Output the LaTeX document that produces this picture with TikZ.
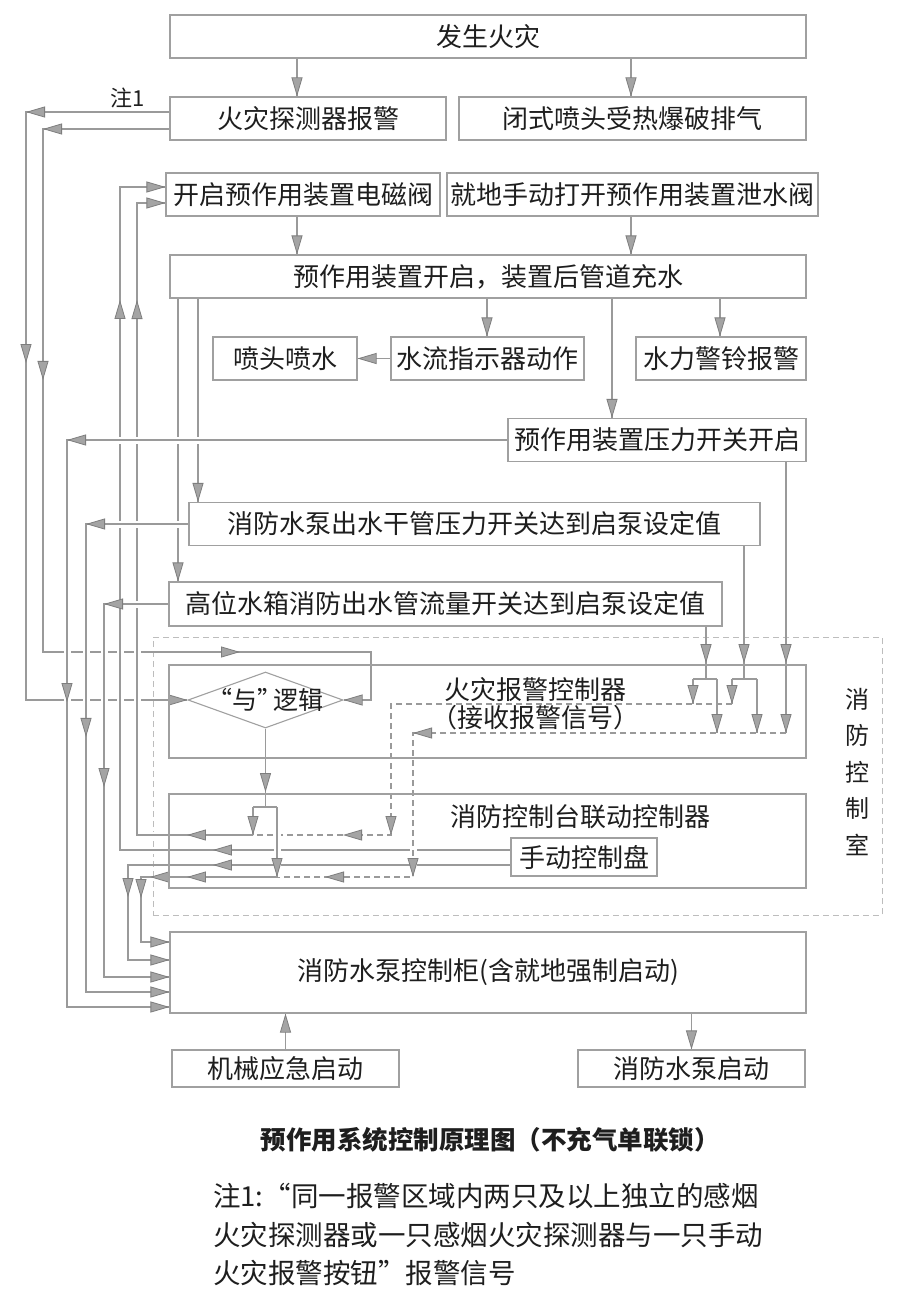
\documentclass[tikz,border=0pt]{standalone}
\usepackage{fontspec}
\setmainfont{Noto Sans CJK SC}
\usetikzlibrary{arrows.meta,decorations.markings,shapes.geometric}
\definecolor{lg}{HTML}{9A9A9A}
\definecolor{bd}{HTML}{A0A0A0}
\definecolor{af}{HTML}{A4A4A4}
\definecolor{ao}{HTML}{7E7E7E}
\definecolor{tx}{HTML}{1E1E1E}
\definecolor{rg}{HTML}{BDBDBD}
\pgfdeclarelayer{bg}
\pgfsetlayers{bg,main}
\newcommand\boxfont{\fontsize{26}{30}\selectfont}
\begin{document}
\begin{tikzpicture}[x=1pt,y=-1pt,
  gtip/.tip={Triangle[length=19pt,width=11pt,line width=0.8pt,color=ao,fill=af]},
  ln/.style={draw=lg,line width=1.1pt},
  dl/.style={ln,dash pattern=on 6pt off 4pt},
  halo/.style={preaction={draw=white,line width=7pt,solid}},
  arr/.style={postaction={decorate,decoration={markings,mark=at position #1 with {\arrow{gtip}}}}},
  bx/.style={draw=bd,line width=1.1pt,fill=white,text=tx,font=\boxfont,inner sep=0pt,minimum height=43pt},
  ctn/.style={draw=bd,line width=1.1pt,inner sep=0pt},
  lbl/.style={text=tx,font=\boxfont,inner sep=0pt},
]
\useasboundingbox (0,0) rectangle (900,1300);

% ---------- boxes ----------
\node[bx,minimum width=636pt] (fire) at (488,36.5) {发生火灾};
\node[bx,minimum width=276pt] (det) at (308,118.5) {火灾探测器报警};
\node[bx,minimum width=347pt] (spr) at (632.5,118.5) {闭式喷头受热爆破排气};
\node[bx,minimum width=274pt] (kq1) at (303,194.5) {开启预作用装置电磁阀};
\node[bx,minimum width=371pt] (man) at (632.5,194.5) {就地手动打开预作用装置泄水阀};
\node[bx,minimum width=636pt] (kq) at (488,276.5) {预作用装置开启，装置后管道充水};
\node[bx,minimum width=144pt] (noz) at (285,358.5) {喷头喷水};
\node[bx,minimum width=193pt] (wf) at (487.5,358.5) {水流指示器动作};
\node[bx,minimum width=170pt] (bell) at (721,358.5) {水力警铃报警};
\node[bx,minimum width=298pt] (ps) at (657,440) {预作用装置压力开关开启};
\node[bx,minimum width=571pt] (sb) at (474.5,524) {消防水泵出水干管压力开关达到启泵设定值};
\node[bx,minimum width=553pt,minimum height=44pt] (gw) at (445.5,604) {高位水箱消防出水管流量开关达到启泵设定值};
\node[ctn,minimum width=637pt,minimum height=93pt] (fac) at (487.5,711.5) {};
\node[lbl] (fact1) at (535,690) {火灾报警控制器};
\node[lbl] (fact2) at (535,718) {（接收报警信号）};
\node[draw=bd,line width=1.1pt,fill=white,diamond,minimum width=155pt,minimum height=56pt,inner sep=0pt,
      label={[lbl,font=\fontsize{25}{30}\selectfont]center:“与”\kern-9pt逻辑}] (and) at (265.5,700) {};
\node[ctn,minimum width=637pt,minimum height=94pt] (lk) at (487.5,841) {};
\node[lbl] (lkt) at (580,817) {消防控制台联动控制器};
\node[bx,minimum width=146pt,minimum height=38pt] (sd) at (584,857) {手动控制盘};
\node[ctn,minimum width=636pt,minimum height=81pt,font=\boxfont,text=tx] (cab) at (488,972.5) {消防水泵控制柜(含就地强制启动)};
\node[bx,minimum width=227pt,minimum height=37pt] (mech) at (285.5,1068.5) {机械应急启动};
\node[bx,minimum width=227pt,minimum height=37pt] (st) at (691.5,1068.5) {消防水泵启动};

\node[text=tx,font=\fontsize{22}{24}\selectfont,inner sep=0pt] (n1) at (128,98) {注1};
\node[text=tx,font=\fontsize{24}{36.5}\selectfont,align=center,inner sep=0pt] (roomt) at (857,772) {消\\防\\控\\制\\室};

\node[text=tx,font=\bfseries\fontsize{25.5}{30}\selectfont,inner sep=0pt] (cap) at (490,1140) {预作用系统控制原理图（不充气单联锁）};
\node[text=tx,font=\fontsize{27.5}{32}\selectfont,inner sep=0pt,anchor=west] (note1) at (213,1196) {注1:“同一报警区域内两只及以上独立的感烟};
\node[text=tx,font=\fontsize{27.5}{32}\selectfont,inner sep=0pt,anchor=west] (note2) at (213,1235) {火灾探测器或一只感烟火灾探测器与一只手动};
\node[text=tx,font=\fontsize{27.5}{32}\selectfont,inner sep=0pt,anchor=west] (note3) at (213,1273) {火灾报警按钮”报警信号};

% ---------- connectors ----------
\begin{pgfonlayer}{bg}
\fill[white] (0,0) rectangle (900,1300);
\node[draw=rg,line width=1pt,dash pattern=on 6pt off 4pt,minimum width=729pt,minimum height=278pt,inner sep=0pt] (room) at (517.5,776) {};

% top
\draw[ln,arr=1] (fire.south -| 297,0) -- (det.north -| 297,0);
\draw[ln,arr=1] (fire.south -| 631,0) -- (spr.north -| 631,0);
\draw[ln,arr=1] (kq1.south -| 297,0) -- (kq.north -| 297,0);
\draw[ln,arr=1] (man.south -| 631,0) -- (kq.north -| 631,0);
\draw[ln,arr=1] (kq.south -| 487,0) -- (wf.north -| 487,0);
\draw[ln,arr=1] (kq.south -| 720,0) -- (bell.north -| 720,0);
\draw[ln,arr=1] (kq.south -| 612,0) -- (ps.north -| 612,0);
\draw[ln,arr=1] (wf.west) -- (noz.east);

% detector signals to AND logic
\coordinate (p1a) at (26,112); \coordinate (p1b) at (26,700);
\draw[ln] (det.west |- p1a) -- (p1a) -- (p1b) -- (and.west);
\path[arr=1] (det.west |- p1a) -- (p1a);
\path[arr=0.4269] (p1a) -- (p1b);
\path[arr=1] (p1b) -- (and.west);
\coordinate (p2a) at (43,129); \coordinate (p2b) at (43,652); \coordinate (p2c) at (371,652); \coordinate (p2d) at (371,700);
\draw[ln] (det.west |- p2a) -- (p2a) -- (p2b) -- (p2c) -- (p2d) -- (and.east);
\path[arr=1] (det.west |- p2a) -- (p2a);
\path[arr=0.4799] (p2a) -- (p2b);
\path[arr=0.6006] (p2b) -- (p2c);
\path[arr=1] (p2d) -- (and.east);

% from pre-action device down
\draw[ln,arr=1] (kq.south -| 178,0) -- (gw.north -| 178,0);
\draw[ln,arr=1] (kq.south -| 198,0) -- (sb.north -| 198,0);

% manual control panel
\coordinate (m2a) at (128,865); \coordinate (m2b) at (128,960);
\draw[ln] (sd.west |- m2a) -- (m2a) -- (m2b) -- (cab.west |- m2b);
\path[arr=0.7781] (sd.west |- m2a) -- (m2a);
\path[arr=0.3368] (m2a) -- (m2b);
\path[arr=1] (m2b) -- (cab.west |- m2b);
\coordinate (m1a) at (120,850); \coordinate (m1b) at (120,187);
\draw[ln,halo] (sd.west |- m1a) -- (m1a) -- (m1b) -- (kq1.west |- m1b);
\path[arr=0.7621] (sd.west |- m1a) -- (m1a);
\path[arr=0.8296] (m1a) -- (m1b);
\path[arr=1] (m1b) -- (kq1.west |- m1b);

% junction to solenoid valve
\coordinate (j1) at (253,835); \coordinate (s1a) at (137,835); \coordinate (s1b) at (137,203);
\draw[ln,halo] (j1) -- (s1a) -- (s1b) -- (kq1.west |- s1b);
\path[arr=0.569] (j1) -- (s1a);
\path[arr=0.8465] (s1a) -- (s1b);
\path[arr=1] (s1b) -- (kq1.west |- s1b);

% switches to pump cabinet
\coordinate (y1a) at (67,440); \coordinate (y1b) at (67,1007);
\draw[ln,halo] (ps.west) -- (y1a) -- (y1b) -- (cab.west |- y1b);
\path[arr=1] (ps.west) -- (y1a);
\path[arr=0.4621] (y1a) -- (y1b);
\path[arr=1] (y1b) -- (cab.west |- y1b);
\coordinate (y2a) at (86,524); \coordinate (y2b) at (86,992);
\draw[ln,halo] (sb.west) -- (y2a) -- (y2b) -- (cab.west |- y2b);
\path[arr=1] (sb.west) -- (y2a);
\path[arr=0.4551] (y2a) -- (y2b);
\path[arr=1] (y2b) -- (cab.west |- y2b);
\coordinate (y3a) at (104,604); \coordinate (y3b) at (104,977);
\draw[ln,halo] (gw.west) -- (y3a) -- (y3b) -- (cab.west |- y3b);
\path[arr=1] (gw.west) -- (y3a);
\path[arr=0.4906] (y3a) -- (y3b);
\path[arr=1] (y3b) -- (cab.west |- y3b);

% dashed signals in alarm controller
\coordinate (r1) at (786,733); \coordinate (d2a) at (413,733); \coordinate (d2b) at (413,877);
\coordinate (z0) at (277,877);
\draw[dl,halo] (r1) -- (d2a) -- (d2b) -- (z0);
\path[arr=1] (r1) -- (d2a);
\path[arr=1] (d2a) -- (d2b);
\path[arr=0.647] (d2b) -- (z0);
\coordinate (d1s) at (732,704); \coordinate (d1a) at (391,704); \coordinate (d1b) at (391,835);
\draw[dl] (d1s) -- (d1a) -- (d1b) -- (j1);
\path[arr=1] (d1a) -- (d1b);
\path[arr=0.3478] (d1b) -- (j1);

% AND output
\coordinate (a0) at (265.5,807);
\draw[ln,arr=0.81] (and.south) -- (a0);
\draw[ln,arr=1] (j1 |- a0) -- (j1);
\draw[ln,halo,arr=1] (z0 |- a0) -- (z0);
\draw[ln] (j1 |- a0) -- (z0 |- a0);

% to pump cabinet
\coordinate (za) at (141,877); \coordinate (zb) at (141,942);
\draw[ln] (z0) -- (za) -- (zb) -- (cab.west |- zb);
\path[arr=0.662,arr=0.934] (z0) -- (za);
\path[arr=0.323] (za) -- (zb);
\path[arr=1] (zb) -- (cab.west |- zb);

% right-hand signals into alarm controller
\draw[ln,arr=0.742,arr=1] (ps.south -| r1) -- (r1);
\draw[ln,arr=0.880] (sb.south -| 744,0) -- (744,679);
\draw[ln] (732,679) -- (757,679);
\draw[ln,arr=1] (732,679) -- (d1s);
\draw[ln,arr=1] (757,679) -- (757,733);
\draw[ln,arr=0.698] (gw.south -| 706,0) -- (706,679);
\draw[ln] (693,679) -- (717,679);
\draw[ln,arr=1] (693,679) -- (693,704);
\draw[ln,arr=1] (717,679) -- (717,733);

% bottom
\draw[ln,arr=1] (mech.north) -- (cab.south -| mech.north);
\draw[ln,arr=1] (cab.south -| st.north) -- (st.north);
\end{pgfonlayer}
\end{tikzpicture}
\end{document}
